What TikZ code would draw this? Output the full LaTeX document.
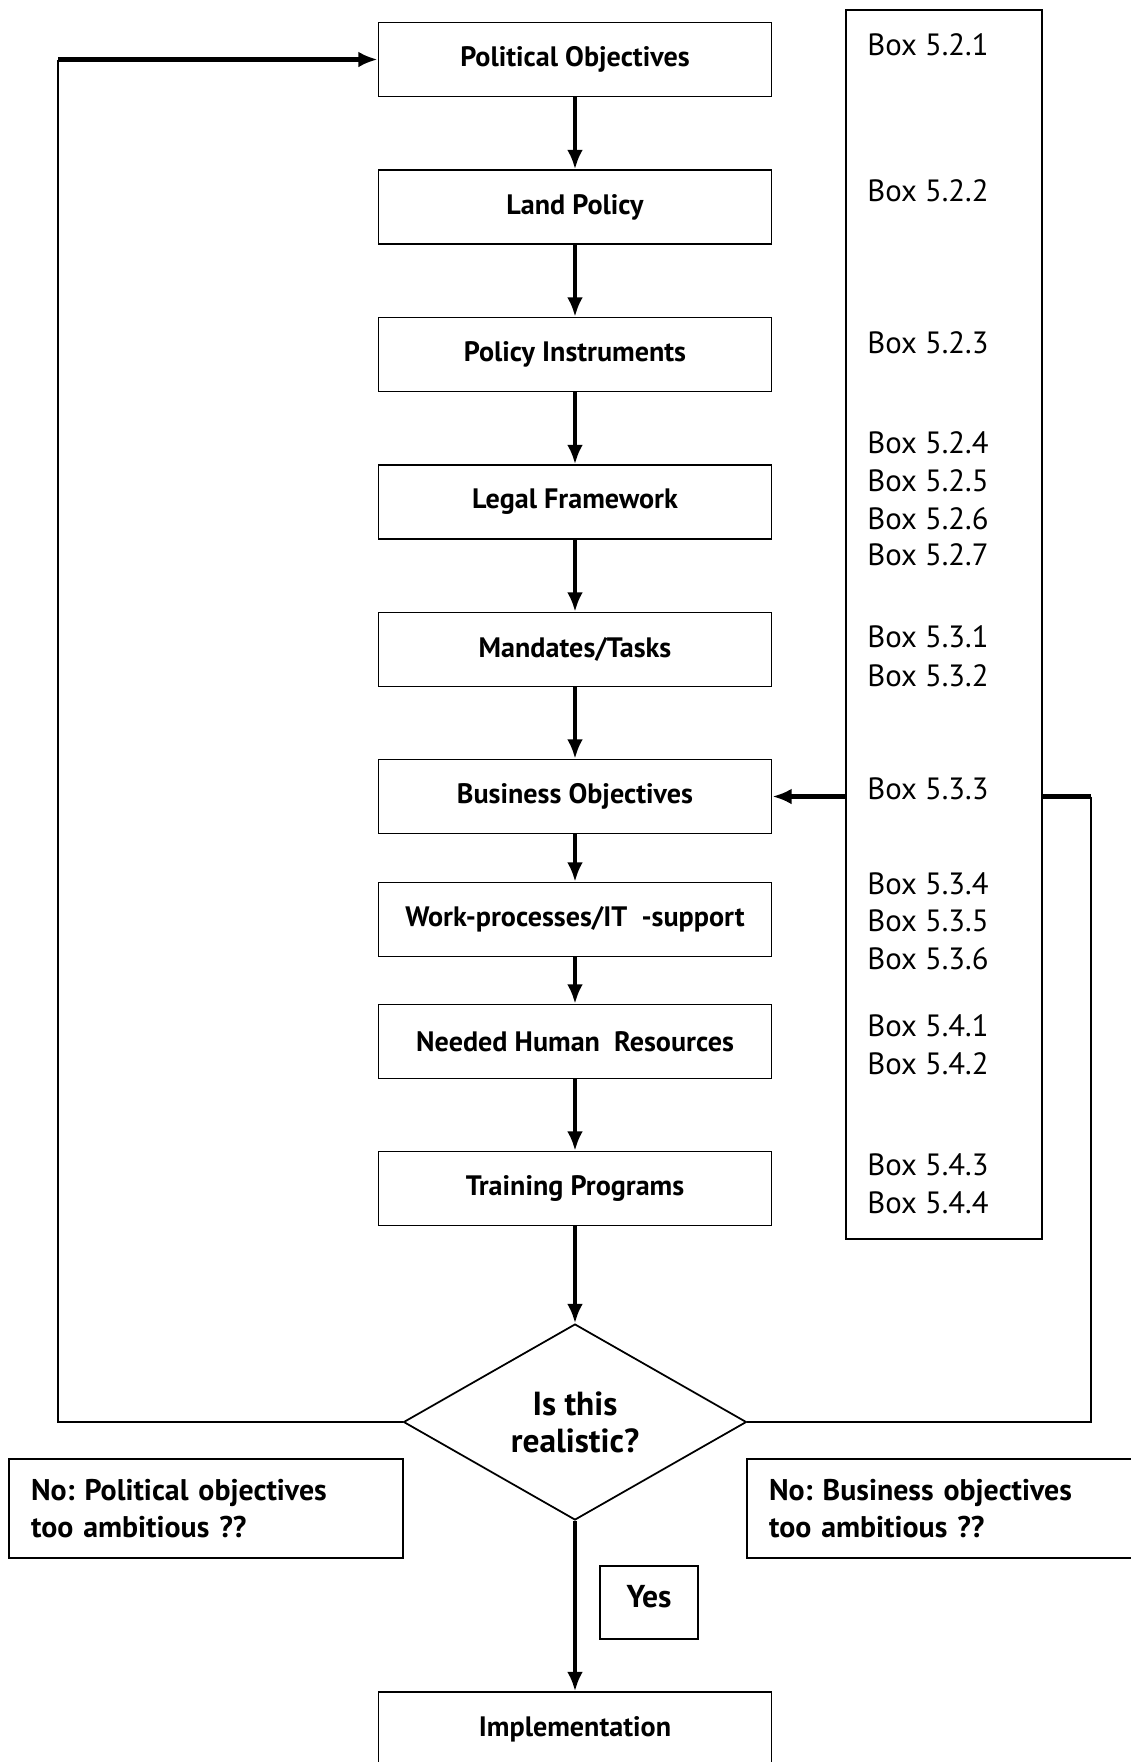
\documentclass[tikz,border=0pt]{standalone}
\usepackage{fontspec}
\setmainfont{PT Sans}
\usetikzlibrary{arrows.meta,shapes.geometric,positioning,calc}

\begin{document}
\frenchspacing
\begin{tikzpicture}[
			x=0.02cm, y=-0.02cm, % pixel grid
			stage/.style={rectangle,draw=black,line width=1pt,inner sep=0pt,minimum width=7.86cm,minimum height=1.48cm,font=\fontsize{16}{19}\selectfont\bfseries},
			note/.style={rectangle,draw=black,line width=1pt,inner sep=0pt,minimum width=7.88cm,minimum height=1.98cm,text width=7.0cm,align=left,font=\fontsize{17}{21}\selectfont\bfseries},
			ref/.style={anchor=west,inner sep=0pt,font=\fontsize{17.5}{21}\selectfont},
			flow/.style={line width=2pt,-{Latex[length=11pt,width=9pt]}},
			fback/.style={line width=1.3pt},
			fbold/.style={line width=2.3pt}]
		\useasboundingbox (0,0) rectangle (1131,1762);
		\path 	(575,59.5) 	node 	(pol) [stage] {Political Objectives}
		        (575,207) 	node 	(land) [stage] {Land Policy}
		        (575,354.5) node 	(inst) [stage] {Policy Instruments}
		        (575,502) 	node 	(legal) [stage] {Legal Framework}
		        (575,649.5) node 	(mand) [stage] {Mandates/Tasks}
		        (575,796.5) node 	(bus) [stage] {Business Objectives}
		        (575,919.5) node 	(work) [stage] {Work-processes/IT\ \ -support}
		        (575,1041.5) node 	(hum) [stage] {Needed Human\ \ Resources}
		        (575,1188.5) node 	(train) [stage] {Training Programs}
		        (575,1729) 	node 	(impl) [stage] {Implementation};
		\path 	(575,1422) 	node 	(check) [diamond,draw=black,line width=1pt,inner sep=0pt,minimum width=6.86cm,minimum height=3.92cm,align=center,font=\fontsize{19}{21}\selectfont\bfseries] {Is this\\realistic?}
		        (206,1508.5) node 	(nopol) [note] {No: Political objectives\\too ambitious ??}
		        (944,1508.5) node 	(nobus) [note] {No: Business objectives\\too ambitious ??}
		        (649,1602.5) node 	(yes) [rectangle,draw=black,line width=1pt,inner sep=0pt,minimum width=1.96cm,minimum height=1.46cm,text depth=7pt,font=\fontsize{18}{21}\selectfont\bfseries] {Yes};
		% column of box references
		\path 	(944,624.5) node 	(col) [rectangle,draw=black,line width=1pt,minimum width=3.92cm,minimum height=24.58cm] {}
		        (867,45) 	node 	(b521) [ref] {Box 5.2.1}
		        (867,191) 	node 	(b522) [ref] {Box 5.2.2}
		        (867,343) 	node 	(b523) [ref] {Box 5.2.3}
		        (867,443) 	node 	(b524) [ref] {Box 5.2.4}
		        (867,481) 	node 	(b525) [ref] {Box 5.2.5}
		        (867,519) 	node 	(b526) [ref] {Box 5.2.6}
		        (867,555) 	node 	(b527) [ref] {Box 5.2.7}
		        (867,637) 	node 	(b531) [ref] {Box 5.3.1}
		        (867,676) 	node 	(b532) [ref] {Box 5.3.2}
		        (867,789) 	node 	(b533) [ref] {Box 5.3.3}
		        (867,884) 	node 	(b534) [ref] {Box 5.3.4}
		        (867,921) 	node 	(b535) [ref] {Box 5.3.5}
		        (867,959) 	node 	(b536) [ref] {Box 5.3.6}
		        (867,1026) 	node 	(b541) [ref] {Box 5.4.1}
		        (867,1064) 	node 	(b542) [ref] {Box 5.4.2}
		        (867,1165) 	node 	(b543) [ref] {Box 5.4.3}
		        (867,1203) 	node 	(b544) [ref] {Box 5.4.4};
		\draw [flow] (pol) -- (land);
		\draw [flow] (land) -- (inst);
		\draw [flow] (inst) -- (legal);
		\draw [flow] (legal) -- (mand);
		\draw [flow] (mand) -- (bus);
		\draw [flow] (bus) -- (work);
		\draw [flow] (work) -- (hum);
		\draw [flow] (hum) -- (train);
		\draw [flow] (train) -- (check.north);
		\draw [flow] (check.south) -- (impl);
		% feedback loops
		\coordinate (lbot) at (58,1422);
		\coordinate (ltop) at (pol.west -| lbot);
		\coordinate (rtop) at (1091,796.5);
		\draw [fback] (check.west) -- (lbot) -- (ltop);
		\draw [fbold,-{Latex[length=11pt,width=9pt]}] (ltop) -- (pol.west);
		\draw [fbold,-{Latex[length=11pt,width=9pt]}] (col.west |- bus) -- (bus.east);
		\draw [fbold] (col.east |- bus) -- (rtop);
		\draw [fback] (rtop) |- (check.east);
\end{tikzpicture}
\end{document}
